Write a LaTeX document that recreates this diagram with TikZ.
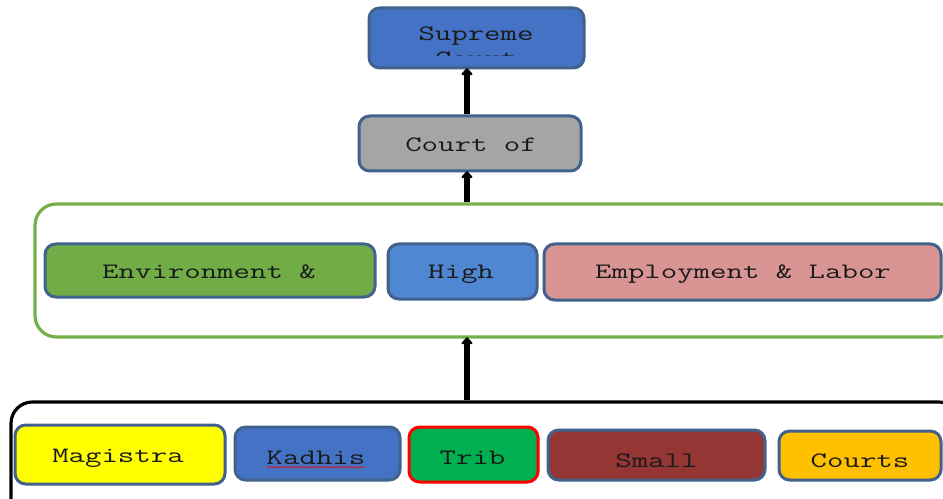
\documentclass[tikz,border=0pt]{standalone}
\usepackage{fontspec}
\usetikzlibrary{arrows.meta,fit,decorations.pathmorphing}
\newfontfamily\boxfont{Latin Modern Mono}[FakeStretch=1.45]

\definecolor{edgeblue}{HTML}{41628C}
\definecolor{supremeblue}{HTML}{4472C4}
\definecolor{appealgray}{HTML}{A5A5A5}
\definecolor{envgreen}{HTML}{70AD47}
\definecolor{highblue}{HTML}{4F87D2}
\definecolor{laborpink}{HTML}{D99594}
\definecolor{magyellow}{HTML}{FFFF00}
\definecolor{tribgreen}{HTML}{00B050}
\definecolor{smallred}{HTML}{943634}
\definecolor{courtsgold}{HTML}{FFC000}
\definecolor{bandgreen}{HTML}{74B04A}
\definecolor{inkdark}{HTML}{1A1A1A}

\tikzset{
  courtbox/.style={draw=edgeblue, line width=2.25pt, rounded corners=8pt,
                   inner sep=0pt},
  band/.style={line width=2.4pt, rounded corners=16pt, inner sep=0pt},
  lbl/.style={font=\boxfont\fontsize{16.5}{20}\selectfont, text=inkdark,
              inner sep=0pt, anchor=base},
  uparrow/.style={line width=4.3pt, black,
                  -{Triangle[width=9.5pt,length=5.5pt,round]}}
}

\begin{document}
\begin{tikzpicture}[x=0.75pt,y=-0.75pt]
\useasboundingbox (0,0) rectangle (943,499);
\clip (0,0) rectangle (943,499);

\coordinate (spine) at (467,0);

% top of the hierarchy
\node[courtbox, fill=supremeblue, fit={(369,8) (584,68)}] (supreme) {};
\node[lbl] (supremeA) at (476,41) {Supreme};
\begin{scope}
  \clip (369,8) rectangle (584,56);
  \node[lbl] (supremeB) at (476,66) {Court};
\end{scope}

\node[courtbox, fill=appealgray, fit={(359,116) (581,171)}] (appeal) {};
\node[lbl] (appealT) at (471,151.5) {Court of};

% superior courts band
\node[band, draw=bandgreen, fit={(35,204) (960,337)}] (upper) {};
\node[courtbox, fill=envgreen, fit={(45,244) (375,297)}] (env) {};
\node[lbl] (envT) at (209,278) {Environment \&};
\node[courtbox, fill=highblue, fit={(388,244) (537,299)}] (high) {};
\node[lbl] (highT) at (461,278) {High};
\node[courtbox, fill=laborpink, fit={(544,244) (941,300)}] (labor) {};
\node[lbl] (laborT) at (743,278) {Employment \& Labor};

% subordinate courts band
\node[band, draw=black, fit={(11,402) (960,520)}] (lower) {};
\node[courtbox, fill=magyellow, fit={(15,425) (225,484)}] (mag) {};
\node[lbl] (magT) at (118,462) {Magistra};
\node[courtbox, fill=supremeblue, fit={(235,427) (400,480)}] (kadhi) {};
\node[lbl] (kadhiT) at (316,464) {Kadhis};
\node[courtbox, draw=red, fill=tribgreen, fit={(409,427) (538,482)}] (trib) {};
\node[lbl] (tribT) at (472.5,464) {Trib};
\node[courtbox, fill=smallred, fit={(548,430) (765,480)}] (small) {};
\node[lbl] (smallT) at (656.5,467) {Small};
\node[courtbox, fill=courtsgold, fit={(779,431) (941,480)}] (courts) {};
\node[lbl] (courtsT) at (860,467) {Courts};

% spell-check squiggle under Kadhis
\draw[red, line width=0.4pt, decorate,
      decoration={snake, amplitude=0.6pt, segment length=2.6pt}]
  ([yshift=-2.4pt]kadhiT.base west) -- ([yshift=-2.4pt]kadhiT.base east);

% appeal arrows
\draw[uparrow] (spine |- appeal.north) -- ([yshift=1pt]spine |- supreme.south);
\draw[uparrow] (spine |- upper.north) -- ([yshift=1pt]spine |- appeal.south);
\draw[uparrow] (spine |- lower.north) -- ([yshift=1pt]spine |- upper.south);
\end{tikzpicture}
\end{document}
